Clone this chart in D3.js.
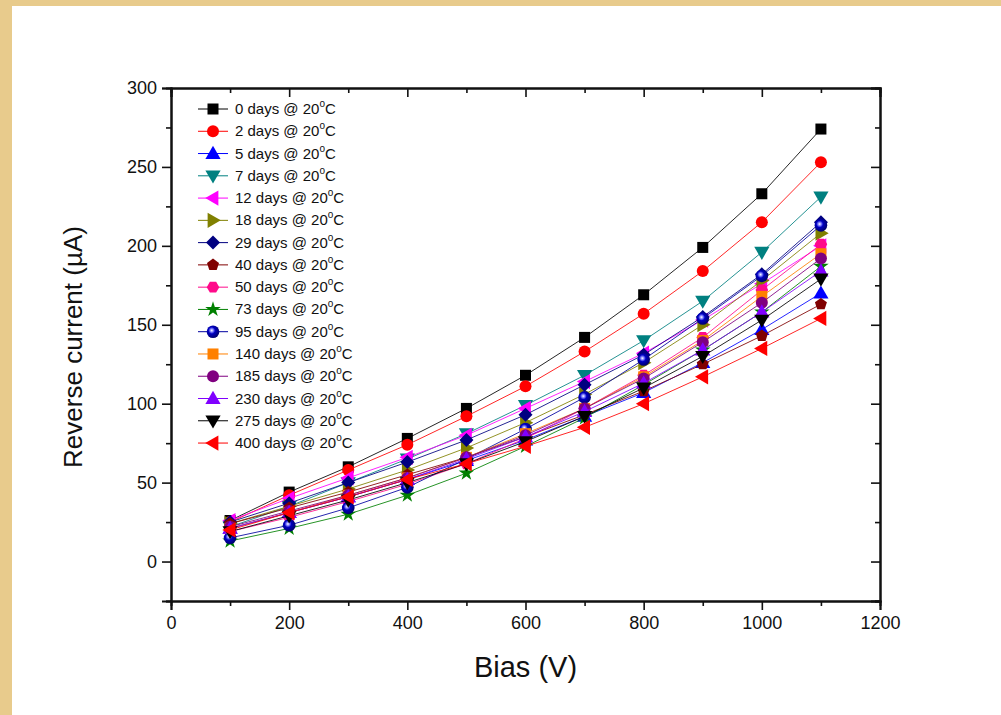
<!DOCTYPE html>
<html>
<head>
<meta charset="utf-8">
<script src="https://cdn.jsdelivr.net/npm/d3@7"></script>
<style>
  body { margin: 0; background: #e8cb8c; }
  svg { display: block; font-family: "Liberation Sans", Arial, sans-serif; }
  .narrow { font-family: "Liberation Sans Narrow", "Arial Narrow", "Liberation Sans", sans-serif; }
</style>
</head>
<body>
<div id="content"></div>
<script>
// bias values (V)
const bias = [100, 200, 300, 400, 500, 600, 700, 800, 900, 1000, 1100]

const labels = ["0", "2", "5", "7", "12", "18", "29", "40", "50", "73", "95", "140", "185", "230", "275", "400"]

// reverse current (uA)
const d0   = [26, 44, 60, 78, 97, 118, 142, 169, 199, 233, 274]
const d2   = [25, 42, 58, 74, 92, 111, 133, 157, 184, 215, 253]
const d5   = [21, 31, 41, 52, 64, 77, 92, 107, 126, 147, 170]
const d7   = [22, 35, 50, 65, 81, 99, 118, 140, 165, 196, 231]
const d12  = [26, 40, 53, 66, 80, 97, 114, 132, 153, 176, 200]
const d18  = [24, 35, 46, 58, 72, 88, 106, 126, 150, 178, 208]
const d29  = [25, 37, 50, 63, 77, 93, 112, 131, 155, 182, 215]
const d40  = [24, 34, 44, 55, 66, 79, 93, 108, 125, 143, 163]
const d50  = [19, 28, 38, 49, 62, 78, 97, 118, 142, 172, 201]
const d73  = [13, 21, 30, 42, 56, 73, 91, 112, 134, 158, 187]
const d95  = [15, 23, 34, 47, 65, 84, 104, 128, 154, 181, 213]
const d140 = [21, 31, 42, 53, 66, 81, 97, 117, 140, 168, 195]
const d185 = [22, 32, 42, 53, 66, 80, 97, 116, 139, 164, 192]
const d230 = [21, 31, 41, 52, 65, 79, 95, 113, 134, 158, 184]
const d275 = [19, 29, 39, 50, 62, 76, 92, 110, 130, 153, 179]
const d400 = [20, 31, 41, 52, 62, 73, 85, 100, 117, 135, 154]

const allValues = [d0, d2, d5, d7, d12, d18, d29, d40, d50, d73, d95, d140, d185, d230, d275, d400]

const colors = ["#000000", "#ff0000", "#0000ff", "#008080", "#ff00ff", "#808000", "#000080", "#800000",
    "#ff0a8a", "#008000", "#0000a0", "#ff8000", "#800080", "#8000ff", "#000000", "#ff0000"]
const shapes = ["square", "circle", "up", "down", "left", "right", "diamond", "pentagon",
    "hexagon", "star", "ball", "square", "circle", "up", "down", "left"]

const series = labels.map((l, i) => ({
    label: l,
    color: colors[i],
    shape: shapes[i],
    values: bias.map((b, j) => ({x: b, y: allValues[i][j]}))
}))

const outerWidth = 1001
const outerHeight = 715
const margin = {top: 88, right: 121, bottom: 114, left: 171}
const width = outerWidth - margin.left - margin.right
const height = outerHeight - margin.top - margin.bottom

const svg = d3.select("#content").append("svg")
    .attr("width", outerWidth)
    .attr("height", outerHeight)

// frame
svg.append("rect").attr("width", outerWidth).attr("height", outerHeight).attr("fill", "#e8cb8c")
svg.append("rect").attr("x", 12).attr("y", 6).attr("width", outerWidth - 12).attr("height", outerHeight - 6)
    .attr("fill", "#ffffff")

const defs = svg.append("defs")
const grad = defs.append("radialGradient").attr("id", "ball")
    .attr("cx", "40%").attr("cy", "40%").attr("r", "60%")
grad.append("stop").attr("offset", "0%").attr("stop-color", "#ffffff")
grad.append("stop").attr("offset", "22%").attr("stop-color", "#8080ff")
grad.append("stop").attr("offset", "45%").attr("stop-color", "#0000c0")
grad.append("stop").attr("offset", "100%").attr("stop-color", "#000070")

const wrapper = svg.append("g")
    .attr("transform", `translate(${margin.left}, ${margin.top})`)

const xScale = d3.scaleLinear().domain([0, 1200]).range([0, width])
const yScale = d3.scaleLinear().domain([-25, 300]).range([height, 0])

// axes
const fmt = d3.format("d")
const xAxis = d3.axisBottom(xScale).tickValues(d3.range(0, 1201, 200)).tickSize(9).tickPadding(6).tickFormat(fmt)
const xMinor = d3.axisBottom(xScale).tickValues(d3.range(100, 1200, 200)).tickSize(5).tickFormat("")
const yAxis = d3.axisLeft(yScale).tickValues(d3.range(0, 301, 50)).tickSize(9).tickPadding(5).tickFormat(fmt)
const yMinor = d3.axisLeft(yScale).tickValues(d3.range(-25, 300, 50)).tickSize(5).tickFormat("")
const xTop = d3.axisTop(xScale).tickValues(d3.range(0, 1201, 200)).tickSize(-9).tickFormat("")
const xTopMinor = d3.axisTop(xScale).tickValues(d3.range(100, 1200, 200)).tickSize(-5).tickFormat("")
const yRight = d3.axisRight(yScale).tickValues(d3.range(0, 301, 50)).tickSize(-9).tickFormat("")
const yRightMinor = d3.axisRight(yScale).tickValues(d3.range(-25, 300, 50)).tickSize(-5).tickFormat("")

const axes = wrapper.append("g").attr("class", "axes")
axes.append("g").attr("transform", `translate(0, ${height})`).call(xAxis)
axes.append("g").attr("transform", `translate(0, ${height})`).call(xMinor)
axes.append("g").call(yAxis)
axes.append("g").call(yMinor)
axes.append("g").call(xTop)
axes.append("g").call(xTopMinor)
axes.append("g").attr("transform", `translate(${width}, 0)`).call(yRight)
axes.append("g").attr("transform", `translate(${width}, 0)`).call(yRightMinor)

axes.selectAll(".domain").attr("stroke", "#111").attr("stroke-width", 2)
axes.selectAll(".tick line").attr("stroke", "#111").attr("stroke-width", 1.6)
axes.selectAll(".tick text").attr("fill", "#111").attr("class", "narrow")
    .attr("font-family", null).style("font-size", "18px")

// axis titles
wrapper.append("text")
    .attr("class", "narrow")
    .attr("x", width / 2)
    .attr("y", height + 76)
    .style("text-anchor", "middle")
    .style("font-size", "29px")
    .attr("fill", "#111")
    .text("Bias (V)")

wrapper.append("text")
    .attr("transform", "rotate(-90)")
    .attr("x", -259)
    .attr("y", -89)
    .style("text-anchor", "middle")
    .style("font-size", "26px")
    .attr("fill", "#111")
    .text("Reverse current (\u00b5A)")

// marker drawing
function pentagon(r) {
    const pts = d3.range(5).map(k => {
        const a = -Math.PI / 2 + k * 2 * Math.PI / 5
        return [r * Math.cos(a), r * Math.sin(a)]
    })
    return "M" + pts.join("L") + "Z"
}
function hexagon(r) {
    const pts = d3.range(6).map(k => {
        const a = k * Math.PI / 3
        return [r * Math.cos(a), r * Math.sin(a)]
    })
    return "M" + pts.join("L") + "Z"
}
const tri = d3.symbol().type(d3.symbolTriangle).size(100)()

function drawMarker(g, shape, color) {
    if (shape === "square") {
        g.append("rect").attr("x", -5.5).attr("y", -5.5).attr("width", 11).attr("height", 11).attr("fill", color)
    } else if (shape === "circle") {
        g.append("circle").attr("r", 6).attr("fill", color)
    } else if (shape === "ball") {
        g.append("circle").attr("r", 6.3).attr("fill", "url(#ball)")
    } else if (shape === "diamond") {
        g.append("path").attr("d", "M0,-7L7,0L0,7L-7,0Z").attr("fill", color)
    } else if (shape === "pentagon") {
        g.append("path").attr("d", pentagon(6.3)).attr("fill", color)
    } else if (shape === "hexagon") {
        g.append("path").attr("d", hexagon(6.3)).attr("fill", color)
    } else if (shape === "star") {
        g.append("path").attr("d", d3.symbol().type(d3.symbolStar).size(75)()).attr("fill", color)
    } else {
        const rot = {up: 0, down: 180, left: -90, right: 90}[shape]
        g.append("path").attr("d", tri).attr("transform", `rotate(${rot}) translate(0, 1)`).attr("fill", color)
    }
}

const line = d3.line().x(d => xScale(d.x)).y(d => yScale(d.y))

const plot = wrapper.append("g").attr("class", "plot")
series.forEach(s => {
    const g = plot.append("g")
    g.append("path")
        .datum(s.values)
        .attr("d", line)
        .attr("fill", "none")
        .attr("stroke", s.color)
        .attr("stroke-width", 1)
        .attr("opacity", 0.85)
    g.selectAll(".pt")
        .data(s.values)
        .enter().append("g")
        .attr("class", "pt")
        .attr("transform", d => `translate(${xScale(d.x)}, ${yScale(d.y)})`)
        .each(function () { drawMarker(d3.select(this), s.shape, s.color) })
})

// legend
const legend = wrapper.append("g").attr("transform", "translate(27, 21)")
series.forEach((s, i) => {
    const row = legend.append("g").attr("transform", `translate(0, ${i * 22.27})`)
    row.append("line").attr("x1", 0).attr("x2", 30).attr("stroke", s.color).attr("stroke-width", 1)
    drawMarker(row.append("g").attr("transform", "translate(15, 0)"), s.shape, s.color)
    const t = row.append("text").attr("x", 37).attr("y", 5).style("font-size", "15px").attr("fill", "#111")
    t.append("tspan").text(`${s.label} days @ 20`)
    t.append("tspan").attr("dy", -7).style("font-size", "10px").text("o")
    t.append("tspan").attr("dy", 7).text("C")
})
</script>
</body>
</html>
